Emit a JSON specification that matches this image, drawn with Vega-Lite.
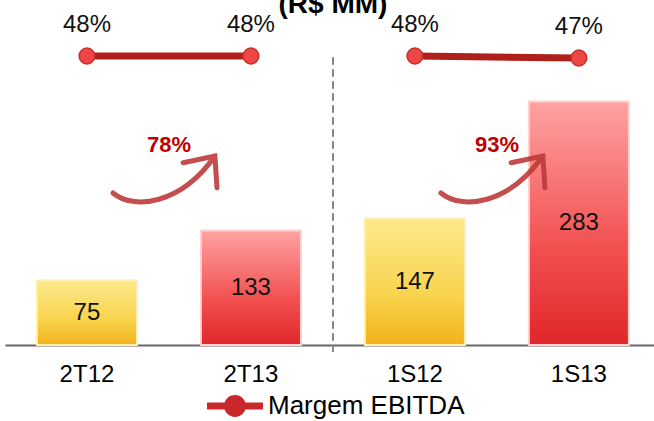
{
  "$schema": "https://vega.github.io/schema/vega-lite/v6.json",
  "width": 649,
  "height": 325,
  "autosize": "none",
  "padding": {"left": 5, "top": 20, "right": 0, "bottom": 76},
  "background": "white",
  "config": {"view": {"stroke": null}, "font": "Liberation Sans"},
  "datasets": {
    "dados": [
      {"periodo": "2T12", "ebitda": 75, "margem": 0.48, "grupo": "Trimestre", "tipo": "anterior", "serie": "Margem EBITDA"},
      {"periodo": "2T13", "ebitda": 133, "margem": 0.48, "grupo": "Trimestre", "tipo": "atual", "serie": "Margem EBITDA"},
      {"periodo": "1S12", "ebitda": 147, "margem": 0.48, "grupo": "Semestre", "tipo": "anterior", "serie": "Margem EBITDA"},
      {"periodo": "1S13", "ebitda": 283, "margem": 0.47, "grupo": "Semestre", "tipo": "atual", "serie": "Margem EBITDA"}
    ],
    "crescimento": [
      {"periodo": "2T12", "variacao": 0.78},
      {"periodo": "1S12", "variacao": 0.93}
    ],
    "titulo": [
      {"periodo": "2T13", "texto": "(R$ MM)"}
    ]
  },
  "data": {"name": "dados"},
  "encoding": {
    "x": {
      "field": "periodo", "type": "nominal",
      "scale": {"domain": ["2T12", "2T13", "1S12", "1S13"], "paddingInner": 0.39, "paddingOuter": 0.174, "align": 0.56},
      "axis": {"title": null, "labelAngle": 0, "labelFontSize": 24, "labelColor": "#000", "labelFont": "Liberation Sans", "labelPadding": 17, "ticks": false, "domainColor": "#666", "domainWidth": 2, "grid": false}
    }
  },
  "layer": [
    {
      "transform": [{"filter": "datum.tipo == 'anterior'"}],
      "mark": {"type": "bar", "fill": {"gradient": "linear", "x1": 0, "y1": 0, "x2": 0, "y2": 1, "stops": [{"offset": 0, "color": "#FDE98C"}, {"offset": 0.6, "color": "#F8D44E"}, {"offset": 1, "color": "#F1B21A"}]}, "stroke": "#FCEFB0", "strokeWidth": 2},
      "encoding": {"y": {"field": "ebitda", "type": "quantitative", "scale": {"domain": [0, 377.7], "nice": false, "zero": true}, "axis": null}}
    },
    {
      "transform": [{"filter": "datum.tipo == 'atual'"}],
      "mark": {"type": "bar", "fill": {"gradient": "linear", "x1": 0, "y1": 0, "x2": 0, "y2": 1, "stops": [{"offset": 0, "color": "#FFA3A3"}, {"offset": 0.6, "color": "#F25050"}, {"offset": 1, "color": "#E0262A"}]}, "stroke": "#FFD0D0", "strokeWidth": 2},
      "encoding": {"y": {"field": "ebitda", "type": "quantitative", "scale": {"domain": [0, 377.7], "nice": false, "zero": true}, "axis": null}}
    },
    {
      "mark": {"type": "text", "fontSize": 24, "color": "#111", "baseline": "middle", "align": "center", "font": "Liberation Sans"},
      "encoding": {
        "y": {"field": "ebitda", "type": "quantitative", "scale": {"domain": [0, 755.4], "nice": false, "zero": true}, "axis": null},
        "text": {"field": "ebitda", "type": "quantitative"}
      }
    },
    {
      "mark": {"type": "rule", "color": "#888", "strokeWidth": 1.5, "strokeDash": [7, 5]},
      "encoding": {
        "x": {"datum": "2T13", "type": "nominal", "bandPosition": 1.32},
        "y": {"datum": 334, "type": "quantitative", "scale": {"domain": [0, 377.7], "nice": false}, "axis": null},
        "y2": {"datum": -8}
      }
    },
    {
      "mark": {"type": "line", "strokeWidth": 7, "strokeCap": "round"},
      "encoding": {
        "y": {"field": "margem", "type": "quantitative", "scale": {"domain": [-0.965, 0.66], "nice": false, "zero": false}, "axis": null},
        "detail": {"field": "grupo"},
        "color": {
          "field": "serie", "type": "nominal",
          "scale": {"range": ["#B0201A"]},
          "legend": {
            "title": null, "orient": "none", "legendX": 202, "legendY": 358,
            "symbolType": "M-1,-0.125H1V0.125H-1Z M0.39,0A0.39,0.39 0 1,1 -0.39,0A0.39,0.39 0 1,1 0.39,0Z",
            "symbolSize": 3136, "symbolStrokeWidth": 0,
            "labelFontSize": 26, "labelColor": "#000", "labelFont": "Liberation Sans", "labelOffset": 5, "labelLimit": 400,
            "encode": {"symbols": {"update": {"fill": {"value": "#C9282A"}, "stroke": {"value": "#B0201A"}, "strokeWidth": {"value": 0}, "opacity": {"value": 1}}}}
          }
        }
      }
    },
    {
      "mark": {"type": "point", "filled": true, "fill": "#EE4646", "stroke": "#C8302C", "strokeWidth": 1.5, "size": 250, "opacity": 1},
      "encoding": {
        "y": {"field": "margem", "type": "quantitative", "scale": {"domain": [-0.965, 0.66], "nice": false, "zero": false}, "axis": null}
      }
    },
    {
      "mark": {"type": "text", "fontSize": 24, "color": "#111", "dy": -31, "align": "center", "baseline": "middle", "font": "Liberation Sans"},
      "encoding": {
        "y": {"field": "margem", "type": "quantitative", "scale": {"domain": [-0.965, 0.66], "nice": false, "zero": false}, "axis": null},
        "text": {"field": "margem", "type": "quantitative", "format": ".0%"}
      }
    },
    {
      "data": {"name": "crescimento"},
      "mark": {"type": "point", "filled": false, "stroke": "#BE3A3A", "strokeWidth": 5, "opacity": 0.9, "strokeCap": "round", "shape": "M-1,0.27C-0.6,0.6 0.3,0.5 0.96,-0.44M0.35,-0.31L0.96,-0.44L1,0.17", "size": 10816},
      "encoding": {
        "x": {"field": "periodo", "type": "nominal", "bandPosition": 1.28},
        "y": {"datum": 193, "type": "quantitative", "scale": {"domain": [0, 377.7], "nice": false}, "axis": null}
      }
    },
    {
      "data": {"name": "crescimento"},
      "mark": {"type": "text", "fontSize": 22, "fontWeight": "bold", "color": "#C00000", "align": "center", "baseline": "middle", "font": "Liberation Sans"},
      "encoding": {
        "x": {"field": "periodo", "type": "nominal", "bandPosition": 1.32},
        "y": {"datum": 233, "type": "quantitative", "scale": {"domain": [0, 377.7], "nice": false}, "axis": null},
        "text": {"field": "variacao", "type": "quantitative", "format": ".0%"}
      }
    },
    {
      "data": {"name": "titulo"},
      "mark": {"type": "text", "fontSize": 28, "fontWeight": "bold", "color": "#000", "align": "center", "baseline": "alphabetic", "font": "Liberation Sans"},
      "encoding": {
        "x": {"field": "periodo", "type": "nominal", "bandPosition": 1.32},
        "y": {"datum": 386, "type": "quantitative", "scale": {"domain": [0, 377.7], "nice": false}, "axis": null},
        "text": {"field": "texto", "type": "nominal"}
      }
    }
  ],
  "resolve": {"scale": {"y": "independent"}}
}
